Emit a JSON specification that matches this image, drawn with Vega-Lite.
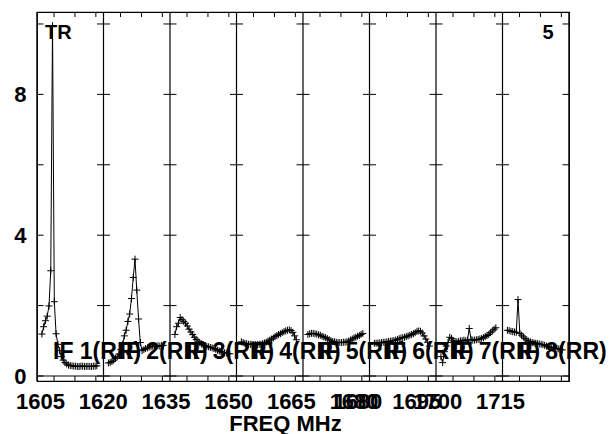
{
  "$schema": "https://vega.github.io/schema/vega-lite/v6.json",
  "width": 532,
  "height": 369,
  "autosize": {"type": "none"},
  "padding": {"left": 37, "top": 12, "right": 44, "bottom": 53},
  "background": "white",
  "config": {
    "view": {"stroke": "black", "strokeWidth": 1.2},
    "font": "Liberation Sans",
    "axisX": {"ticks": false, "domain": false, "grid": false,
              "labelFont": "Liberation Sans", "labelFontSize": 22, "labelFontWeight": "bold", "labelColor": "black",
              "labelPadding": 10, "labelOverlap": false, "labelBound": false, "labelFlush": false,
              "titleFont": "Liberation Sans", "titleFontSize": 22, "titleFontWeight": "bold", "titleColor": "black",
              "titleX": 248, "titleY": 49, "titleAlign": "center", "titleBaseline": "alphabetic"},
    "axisY": {"ticks": false, "domain": false, "grid": false,
              "labelFont": "Liberation Sans", "labelFontSize": 22, "labelFontWeight": "bold", "labelColor": "black",
              "labelPadding": 11}
  },
  "datasets": {
    "ifs": [
      {"ifn": 1, "start": 1604.3, "label": "IF 1(RR)",
       "f": [1605.47,1605.89,1606.32,1606.74,1607.17,1607.59,1608.01,1608.44,1608.86,1609.29,1609.71,1610.13,1610.56,1610.98,1611.41,1611.83,1612.25,1612.68,1613.10,1613.53,1613.95,1614.37,1614.80,1615.22,1615.65,1616.07,1616.49,1616.92,1617.34,1617.77,1618.19,1618.61],
       "v": [1.19,1.4,1.57,1.7,1.99,2.99,9.95,2.11,1.2,0.9,0.72,0.55,0.45,0.38,0.34,0.31,0.3,0.29,0.28,0.28,0.27,0.27,0.28,0.28,0.27,0.27,0.28,0.27,0.27,0.28,0.28,0.29]},
      {"ifn": 2, "start": 1620.2, "label": "IF 2(RR)",
       "f": [1621.37,1621.79,1622.22,1622.64,1623.07,1623.49,1623.91,1624.34,1624.76,1625.19,1625.61,1626.03,1626.46,1626.88,1627.31,1627.73,1628.15,1628.58,1629.00,1629.43,1629.85,1630.27,1630.70,1631.12,1631.55,1631.97,1632.39,1632.82,1633.24,1633.67,1634.09,1634.51],
       "v": [0.37,0.38,0.41,0.45,0.5,0.55,0.62,0.75,0.9,1.14,1.3,1.55,1.76,2.2,2.8,3.32,2.44,1.62,0.95,0.72,0.75,0.78,0.8,0.82,0.83,0.85,0.84,0.85,0.86,0.85,0.86,0.87]},
      {"ifn": 3, "start": 1636.1, "label": "IF 3(RR)",
       "f": [1637.27,1637.69,1638.12,1638.54,1638.97,1639.39,1639.81,1640.24,1640.66,1641.09,1641.51,1641.93,1642.36,1642.78,1643.21,1643.63,1644.05,1644.48,1644.90,1645.33,1645.75,1646.17,1646.60,1647.02,1647.45,1647.87,1648.29,1648.72,1649.14,1649.57,1649.99,1650.41],
       "v": [1.18,1.4,1.5,1.66,1.6,1.55,1.5,1.42,1.33,1.25,1.18,1.1,1.04,0.99,0.95,0.91,0.88,0.86,0.84,0.83,0.81,0.8,0.78,0.76,0.73,0.71,0.69,0.67,0.66,0.65,0.64,0.63]},
      {"ifn": 4, "start": 1652.0, "label": "IF 4(RR)",
       "f": [1653.17,1653.59,1654.02,1654.44,1654.87,1655.29,1655.71,1656.14,1656.56,1656.99,1657.41,1657.83,1658.26,1658.68,1659.11,1659.53,1659.95,1660.38,1660.80,1661.23,1661.65,1662.07,1662.50,1662.92,1663.35,1663.77,1664.19,1664.62,1665.04,1665.47,1665.89,1666.31],
       "v": [0.97,0.95,0.93,0.92,0.9,0.9,0.9,0.89,0.89,0.89,0.9,0.9,0.92,0.94,0.96,0.99,1.02,1.05,1.08,1.12,1.15,1.18,1.2,1.23,1.26,1.28,1.3,1.31,1.29,1.24,1.14,1.03]},
      {"ifn": 5, "start": 1667.9, "label": "IF 5(RR)",
       "f": [1669.07,1669.49,1669.92,1670.34,1670.77,1671.19,1671.61,1672.04,1672.46,1672.89,1673.31,1673.73,1674.16,1674.58,1675.01,1675.43,1675.85,1676.28,1676.70,1677.13,1677.55,1677.97,1678.40,1678.82,1679.25,1679.67,1680.09,1680.52,1680.94,1681.37,1681.79,1682.21],
       "v": [1.18,1.2,1.21,1.21,1.2,1.19,1.17,1.16,1.13,1.11,1.09,1.06,1.03,1.0,0.98,0.97,0.96,0.95,0.95,0.95,0.96,0.96,0.97,0.99,1.02,1.05,1.08,1.1,1.13,1.15,1.18,1.21]},
      {"ifn": 6, "start": 1683.8, "label": "IF 6(RR)",
       "f": [1684.97,1685.39,1685.82,1686.24,1686.67,1687.09,1687.51,1687.94,1688.36,1688.79,1689.21,1689.63,1690.06,1690.48,1690.91,1691.33,1691.75,1692.18,1692.60,1693.03,1693.45,1693.87,1694.30,1694.72,1695.15,1695.57,1695.99,1696.42,1696.84,1697.27,1697.69,1698.11],
       "v": [0.93,0.93,0.94,0.94,0.95,0.96,0.96,0.97,0.98,0.99,1.0,1.01,1.02,1.04,1.06,1.08,1.09,1.1,1.12,1.14,1.16,1.18,1.2,1.23,1.27,1.28,1.27,1.22,1.14,1.05,0.96,0.85]},
      {"ifn": 7, "start": 1699.7, "label": "IF 7(RR)",
       "f": [1700.87,1701.29,1701.72,1702.14,1702.57,1702.99,1703.41,1703.84,1704.26,1704.69,1705.11,1705.53,1705.96,1706.38,1706.81,1707.23,1707.65,1708.08,1708.50,1708.93,1709.35,1709.77,1710.20,1710.62,1711.05,1711.47,1711.89,1712.32,1712.74,1713.17,1713.59,1714.01],
       "v": [0.55,0.38,0.69,0.85,0.95,1.1,1.07,1.0,0.98,0.97,0.98,1.0,1.0,1.02,1.0,1.02,1.35,1.04,1.02,1.02,1.03,1.04,1.05,1.07,1.09,1.12,1.15,1.18,1.23,1.28,1.33,1.37]},
      {"ifn": 8, "start": 1715.6, "label": "IF 8(RR)",
       "f": [1716.77,1717.19,1717.62,1718.04,1718.47,1718.89,1719.31,1719.74,1720.16,1720.59,1721.01,1721.43,1721.86,1722.28,1722.71,1723.13,1723.55,1723.98,1724.40,1724.83,1725.25,1725.67,1726.10,1726.52,1726.95,1727.37,1727.79,1728.22,1728.64,1729.07,1729.49,1729.91],
       "v": [1.3,1.29,1.27,1.26,1.25,1.24,2.17,1.21,1.16,1.11,1.06,1.02,0.99,0.97,0.95,0.94,0.93,0.92,0.91,0.9,0.89,0.87,0.85,0.83,0.82,0.81,0.8,0.79,0.78,0.77,0.76,0.74]}
    ],
    "bounds": [
      {"b": 1604.3, "yt": [0,2,4,6,8,10]},
      {"b": 1620.2, "yt": [0,2,4,6,8,10]},
      {"b": 1636.1, "yt": [0,2,4,6,8,10]},
      {"b": 1652.0, "yt": [0,2,4,6,8,10]},
      {"b": 1667.9, "yt": [0,2,4,6,8,10]},
      {"b": 1683.8, "yt": [0,2,4,6,8,10]},
      {"b": 1699.7, "yt": [0,2,4,6,8,10]},
      {"b": 1715.6, "yt": [0,2,4,6,8,10]},
      {"b": 1731.5, "yt": [0,2,4,6,8,10]}
    ],
    "minor": [
      {"m": 1608.37}, {"m": 1613.37}, {"m": 1618.37},
      {"m": 1624.27}, {"m": 1629.27}, {"m": 1634.27},
      {"m": 1640.17}, {"m": 1645.17}, {"m": 1650.17},
      {"m": 1656.07}, {"m": 1661.07}, {"m": 1666.07},
      {"m": 1671.97}, {"m": 1676.97}, {"m": 1681.97},
      {"m": 1687.87}, {"m": 1692.87}, {"m": 1697.87},
      {"m": 1703.77}, {"m": 1708.77}, {"m": 1713.77},
      {"m": 1719.67}, {"m": 1724.67}, {"m": 1729.67}
    ]
  },
  "layer": [
    {
      "data": {"name": "bounds"},
      "mark": {"type": "rule", "color": "black", "strokeWidth": 1.2},
      "encoding": {
        "x": {"field": "b", "type": "quantitative", "title": "FREQ MHz",
              "scale": {"domain": [1604.3, 1731.5], "nice": false, "zero": false},
              "axis": {"values": [1605, 1620, 1635, 1650, 1665, 1680, 1680.9, 1695, 1700, 1715],
                       "labelExpr": "toString(floor(datum.value))"}}
      }
    },
    {
      "data": {"values": [{}]},
      "mark": {"type": "rule", "color": "black", "strokeWidth": 1},
      "encoding": {
        "y": {"datum": 0, "type": "quantitative", "title": null,
              "scale": {"domain": [-0.142, 10.34], "nice": false, "zero": false},
              "axis": {"values": [0, 4, 8]}}
      }
    },
    {
      "data": {"name": "bounds"},
      "transform": [{"flatten": ["yt"]}],
      "mark": {"type": "tick", "orient": "horizontal", "size": 13, "thickness": 1, "color": "black", "opacity": 1, "clip": true},
      "encoding": {
        "x": {"field": "b", "type": "quantitative", "title": "FREQ MHz",
              "axis": {"values": [1605, 1620, 1635, 1650, 1665, 1680, 1680.9, 1695, 1700, 1715],
                       "labelExpr": "toString(floor(datum.value))"}},
        "y": {"field": "yt", "type": "quantitative", "title": null, "axis": {"values": [0, 4, 8]}}
      }
    },
    {
      "data": {"name": "minor"},
      "mark": {"type": "tick", "orient": "vertical", "size": 10, "thickness": 1, "color": "black", "opacity": 1, "clip": true},
      "encoding": {
        "x": {"field": "m", "type": "quantitative", "title": "FREQ MHz",
              "axis": {"values": [1605, 1620, 1635, 1650, 1665, 1680, 1680.9, 1695, 1700, 1715],
                       "labelExpr": "toString(floor(datum.value))"}},
        "y": {"datum": 10.34, "type": "quantitative", "title": null, "axis": {"values": [0, 4, 8]}}
      }
    },
    {
      "data": {"name": "minor"},
      "mark": {"type": "tick", "orient": "vertical", "size": 10, "thickness": 1, "color": "black", "opacity": 1, "clip": true},
      "encoding": {
        "x": {"field": "m", "type": "quantitative", "title": "FREQ MHz",
              "axis": {"values": [1605, 1620, 1635, 1650, 1665, 1680, 1680.9, 1695, 1700, 1715],
                       "labelExpr": "toString(floor(datum.value))"}},
        "y": {"datum": -0.142, "type": "quantitative", "title": null, "axis": {"values": [0, 4, 8]}}
      }
    },
    {
      "data": {"name": "ifs"},
      "transform": [{"flatten": ["f", "v"]}],
      "mark": {"type": "line", "color": "black", "strokeWidth": 1, "clip": true},
      "encoding": {
        "x": {"field": "f", "type": "quantitative", "title": "FREQ MHz",
              "axis": {"values": [1605, 1620, 1635, 1650, 1665, 1680, 1680.9, 1695, 1700, 1715],
                       "labelExpr": "toString(floor(datum.value))"}},
        "y": {"field": "v", "type": "quantitative", "title": null, "axis": {"values": [0, 4, 8]}},
        "detail": {"field": "ifn", "type": "nominal"}
      }
    },
    {
      "data": {"name": "ifs"},
      "transform": [{"flatten": ["f", "v"]}],
      "mark": {"type": "point", "shape": "M-1,0H1M0,-1V1", "filled": false, "stroke": "black", "strokeWidth": 1, "size": 49, "opacity": 1, "clip": true},
      "encoding": {
        "x": {"field": "f", "type": "quantitative", "title": "FREQ MHz",
              "axis": {"values": [1605, 1620, 1635, 1650, 1665, 1680, 1680.9, 1695, 1700, 1715],
                       "labelExpr": "toString(floor(datum.value))"}},
        "y": {"field": "v", "type": "quantitative", "title": null, "axis": {"values": [0, 4, 8]}}
      }
    },
    {
      "data": {"name": "ifs"},
      "mark": {"type": "text", "align": "left", "baseline": "alphabetic", "dx": 16, "font": "Liberation Sans", "fontSize": 23, "fontWeight": "bold", "color": "black"},
      "encoding": {
        "x": {"field": "start", "type": "quantitative", "title": "FREQ MHz",
              "axis": {"values": [1605, 1620, 1635, 1650, 1665, 1680, 1680.9, 1695, 1700, 1715],
                       "labelExpr": "toString(floor(datum.value))"}},
        "y": {"datum": 0.48, "type": "quantitative", "title": null, "axis": {"values": [0, 4, 8]}},
        "text": {"field": "label"}
      }
    },
    {
      "data": {"values": [{}]},
      "mark": {"type": "text", "text": "TR", "align": "left", "baseline": "alphabetic", "font": "Liberation Sans", "fontSize": 20, "fontWeight": "bold", "color": "black"},
      "encoding": {
        "x": {"datum": 1606.2, "type": "quantitative", "title": "FREQ MHz",
              "axis": {"values": [1605, 1620, 1635, 1650, 1665, 1680, 1680.9, 1695, 1700, 1715],
                       "labelExpr": "toString(floor(datum.value))"}},
        "y": {"datum": 9.58, "type": "quantitative", "title": null, "axis": {"values": [0, 4, 8]}}
      }
    },
    {
      "data": {"values": [{}]},
      "mark": {"type": "text", "text": "5", "align": "right", "baseline": "alphabetic", "font": "Liberation Sans", "fontSize": 20, "fontWeight": "bold", "color": "black"},
      "encoding": {
        "x": {"datum": 1727.8, "type": "quantitative", "title": "FREQ MHz",
              "axis": {"values": [1605, 1620, 1635, 1650, 1665, 1680, 1680.9, 1695, 1700, 1715],
                       "labelExpr": "toString(floor(datum.value))"}},
        "y": {"datum": 9.58, "type": "quantitative", "title": null, "axis": {"values": [0, 4, 8]}}
      }
    }
  ]
}
